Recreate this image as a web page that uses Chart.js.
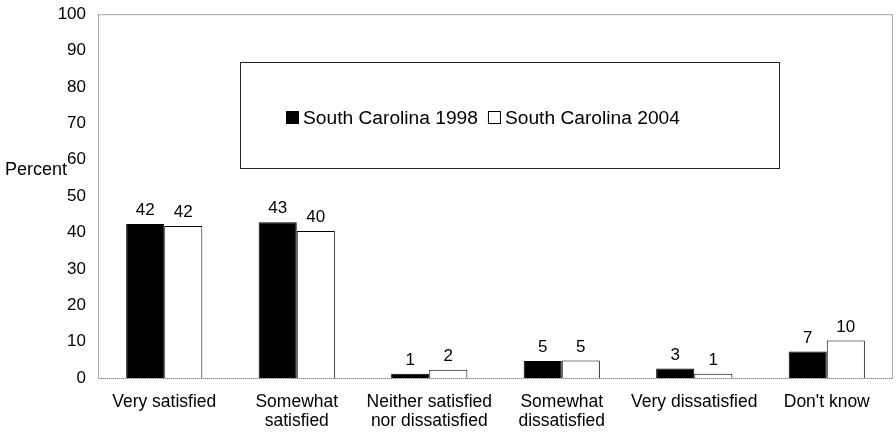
<!DOCTYPE html>
<html>
<head>
<meta charset="utf-8">
<script src="https://cdn.jsdelivr.net/npm/chart.js@4"></script>
<style>
  html, body { margin: 0; padding: 0; background: #fff; }
  #wrap { width: 896px; height: 432px; }
</style>
</head>
<body>
<div id="wrap"><canvas id="chart"></canvas></div>
<script>
const categories = [
    'Very satisfied',
    ['Somewhat', 'satisfied'],
    ['Neither satisfied', 'nor dissatisfied'],
    ['Somewhat', 'dissatisfied'],
    'Very dissatisfied',
    "Don't know"
];
const sc1998 = [42.3, 42.8, 1.2, 4.7, 2.6, 7.3];
const sc2004 = [41.8, 40.4, 2.3, 4.8, 1.2, 10.3];
const seriesNames = ['South Carolina 1998', 'South Carolina 2004'];
const yTicks = [0, 10, 20, 30, 40, 50, 60, 70, 80, 90, 100];

const FONT = '"Liberation Sans", Arial, sans-serif';

// dotted frame round the plot, value labels, legend box and "Percent"
const extras = {
    id: 'extras',
    afterDatasetsDraw(chart) {
        const ctx = chart.ctx;
        const a = chart.chartArea;
        ctx.save();

        ctx.strokeStyle = '#555';
        ctx.lineWidth = 1;
        ctx.setLineDash([1, 1]);
        ctx.strokeRect(a.left + 0.5, a.top + 0.5, a.right - a.left - 1, a.bottom - a.top);
        ctx.setLineDash([]);

        ctx.fillStyle = '#000';
        ctx.font = '17px ' + FONT;
        ctx.textAlign = 'center';
        ctx.textBaseline = 'bottom';
        chart.data.datasets.forEach((ds, i) => {
            chart.getDatasetMeta(i).data.forEach((bar, j) => {
                ctx.fillText(Math.round(ds.data[j]), bar.x, bar.y - 5);
            });
        });

        // legend box
        const lx = 240, ly = 62, lw = 539, lh = 106;
        ctx.strokeStyle = '#222';
        ctx.strokeRect(lx + 0.5, ly + 0.5, lw, lh);
        ctx.font = '19.2px ' + FONT;
        ctx.textAlign = 'left';
        ctx.textBaseline = 'middle';
        let x = 286;
        const y = 118;
        chart.data.datasets.forEach((ds) => {
            ctx.fillStyle = ds.backgroundColor;
            ctx.fillRect(x, y - 7, 13, 13);
            ctx.strokeStyle = '#000';
            ctx.strokeRect(x + 0.5, y - 6.5, 12, 12);
            ctx.fillStyle = '#000';
            ctx.fillText(ds.label, x + 17, y + 1);
            x += 17 + ctx.measureText(ds.label).width + 10;
        });

        ctx.font = '18px ' + FONT;
        ctx.fillText('Percent', 5, 170);
        ctx.restore();
    }
};

new Chart(document.getElementById('chart'), {
    type: 'bar',
    data: {
        labels: categories,
        datasets: [
            {
                label: seriesNames[0],
                data: sc1998,
                backgroundColor: '#000',
                borderColor: '#000',
                borderWidth: 1
            },
            {
                label: seriesNames[1],
                data: sc2004,
                backgroundColor: '#fff',
                borderColor: '#000',
                borderWidth: 1
            }
        ]
    },
    options: {
        responsive: true,
        maintainAspectRatio: false,
        animation: false,
        layout: { padding: { top: 13, right: 3, left: 0, bottom: 0 } },
        plugins: {
            legend: { display: false },
            tooltip: { enabled: false }
        },
        datasets: {
            bar: { barPercentage: 1, categoryPercentage: 0.575 }
        },
        scales: {
            x: {
                grid: { display: false },
                border: { display: false },
                ticks: {
                    color: '#000',
                    font: { family: FONT, size: 17.5, lineHeight: 1.12 },
                    padding: 6,
                    maxRotation: 0,
                    autoSkip: false
                },
                afterFit(scale) { scale.height = 54; }
            },
            y: {
                min: 0,
                max: 100,
                grid: { display: false },
                border: { display: false },
                afterBuildTicks(scale) {
                    scale.ticks = yTicks.map(v => ({ value: v }));
                },
                ticks: {
                    color: '#000',
                    font: { family: FONT, size: 17 },
                    padding: 4
                },
                afterFit(scale) { scale.width = 98; }
            }
        }
    },
    plugins: [extras]
});
</script>
</body>
</html>
